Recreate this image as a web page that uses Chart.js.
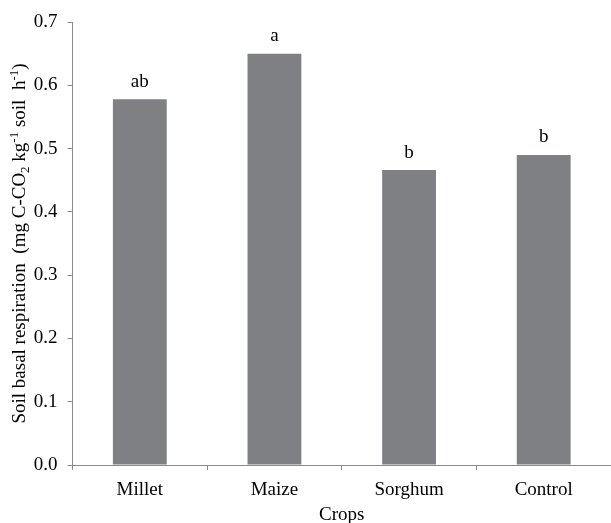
<!DOCTYPE html>
<html>
<head>
<meta charset="utf-8">
<script src="https://cdn.jsdelivr.net/npm/chart.js@4"></script>
<style>
  html, body { margin: 0; padding: 0; background: #fff; }
  #wrap { width: 611px; height: 523px; }
</style>
</head>
<body>
<div id="wrap"><canvas id="respChart"></canvas></div>
<script>
const crops = ["Millet", "Maize", "Sorghum", "Control"];
const respiration = [0.578, 0.650, 0.466, 0.490];
const letters = ["ab", "a", "b", "b"];
const yTicks = [0, 0.1, 0.2, 0.3, 0.4, 0.5, 0.6, 0.7];

const serif = "'Liberation Serif', 'Times New Roman', serif";
const axisGray = "#8a8a8a";

// letters above each bar
const letterPlugin = {
  id: "letters",
  afterDatasetsDraw(chart) {
    const ctx = chart.ctx;
    const meta = chart.getDatasetMeta(0);
    ctx.save();
    ctx.font = "19px " + serif;
    ctx.fillStyle = "#000";
    ctx.textAlign = "center";
    ctx.textBaseline = "alphabetic";
    meta.data.forEach((bar, i) => {
      ctx.fillText(letters[i], bar.x, bar.y - 12.5);
    });
    ctx.restore();
  }
};

// y title with subscript / superscript parts
const yTitlePlugin = {
  id: "yTitle",
  afterDraw(chart) {
    const ctx = chart.ctx;
    const area = chart.chartArea;
    const parts = [
      ["Soil basal respiration  (mg C-CO", 0],
      ["2", 1],
      [" kg", 0],
      ["-1", -1],
      [" soil  h", 0],
      ["-1", -1],
      [")", 0]
    ];
    const big = "19px " + serif, small = "13px " + serif;
    ctx.save();
    let total = 0;
    parts.forEach(p => { ctx.font = p[1] ? small : big; total += ctx.measureText(p[0]).width; });
    ctx.translate(25, (area.top + area.bottom) / 2);
    ctx.rotate(-Math.PI / 2);
    ctx.fillStyle = "#000";
    ctx.textBaseline = "alphabetic";
    let x = -total / 2;
    parts.forEach(p => {
      ctx.font = p[1] ? small : big;
      const dy = p[1] === 1 ? 4 : (p[1] === -1 ? -7 : 0);
      ctx.fillText(p[0], x, dy);
      x += ctx.measureText(p[0]).width;
    });
    ctx.restore();
  }
};

new Chart(document.getElementById("respChart"), {
  type: "bar",
  data: {
    labels: crops,
    datasets: [{
      data: respiration,
      backgroundColor: "#7f8084",
      categoryPercentage: 0.4,
      barPercentage: 1
    }]
  },
  options: {
    responsive: true,
    maintainAspectRatio: false,
    animation: false,
    layout: { padding: { top: 22, right: 0, left: 0, bottom: 0 } },
    plugins: { legend: { display: false }, tooltip: { enabled: false } },
    scales: {
      x: {
        grid: { offset: true, drawOnChartArea: false, tickLength: 5, color: axisGray },
        border: { color: axisGray },
        ticks: { color: "#000", font: { family: serif, size: 19 }, padding: 9 },
        title: { display: true, text: "Crops", color: "#000", font: { family: serif, size: 19 }, padding: { top: 0, bottom: -3 } },
        afterFit(scale) { scale.height = 58; }
      },
      y: {
        min: 0,
        max: 0.7,
        afterBuildTicks(scale) { scale.ticks = yTicks.map(v => ({ value: v })); },
        grid: { drawOnChartArea: false, tickLength: 5, color: axisGray },
        border: { color: axisGray },
        ticks: {
          color: "#000",
          font: { family: serif, size: 19 },
          padding: 10,
          callback: v => v.toFixed(1)
        },
        afterFit(scale) { scale.width = 72.5; }
      }
    }
  },
  plugins: [letterPlugin, yTitlePlugin]
});
</script>
</body>
</html>
